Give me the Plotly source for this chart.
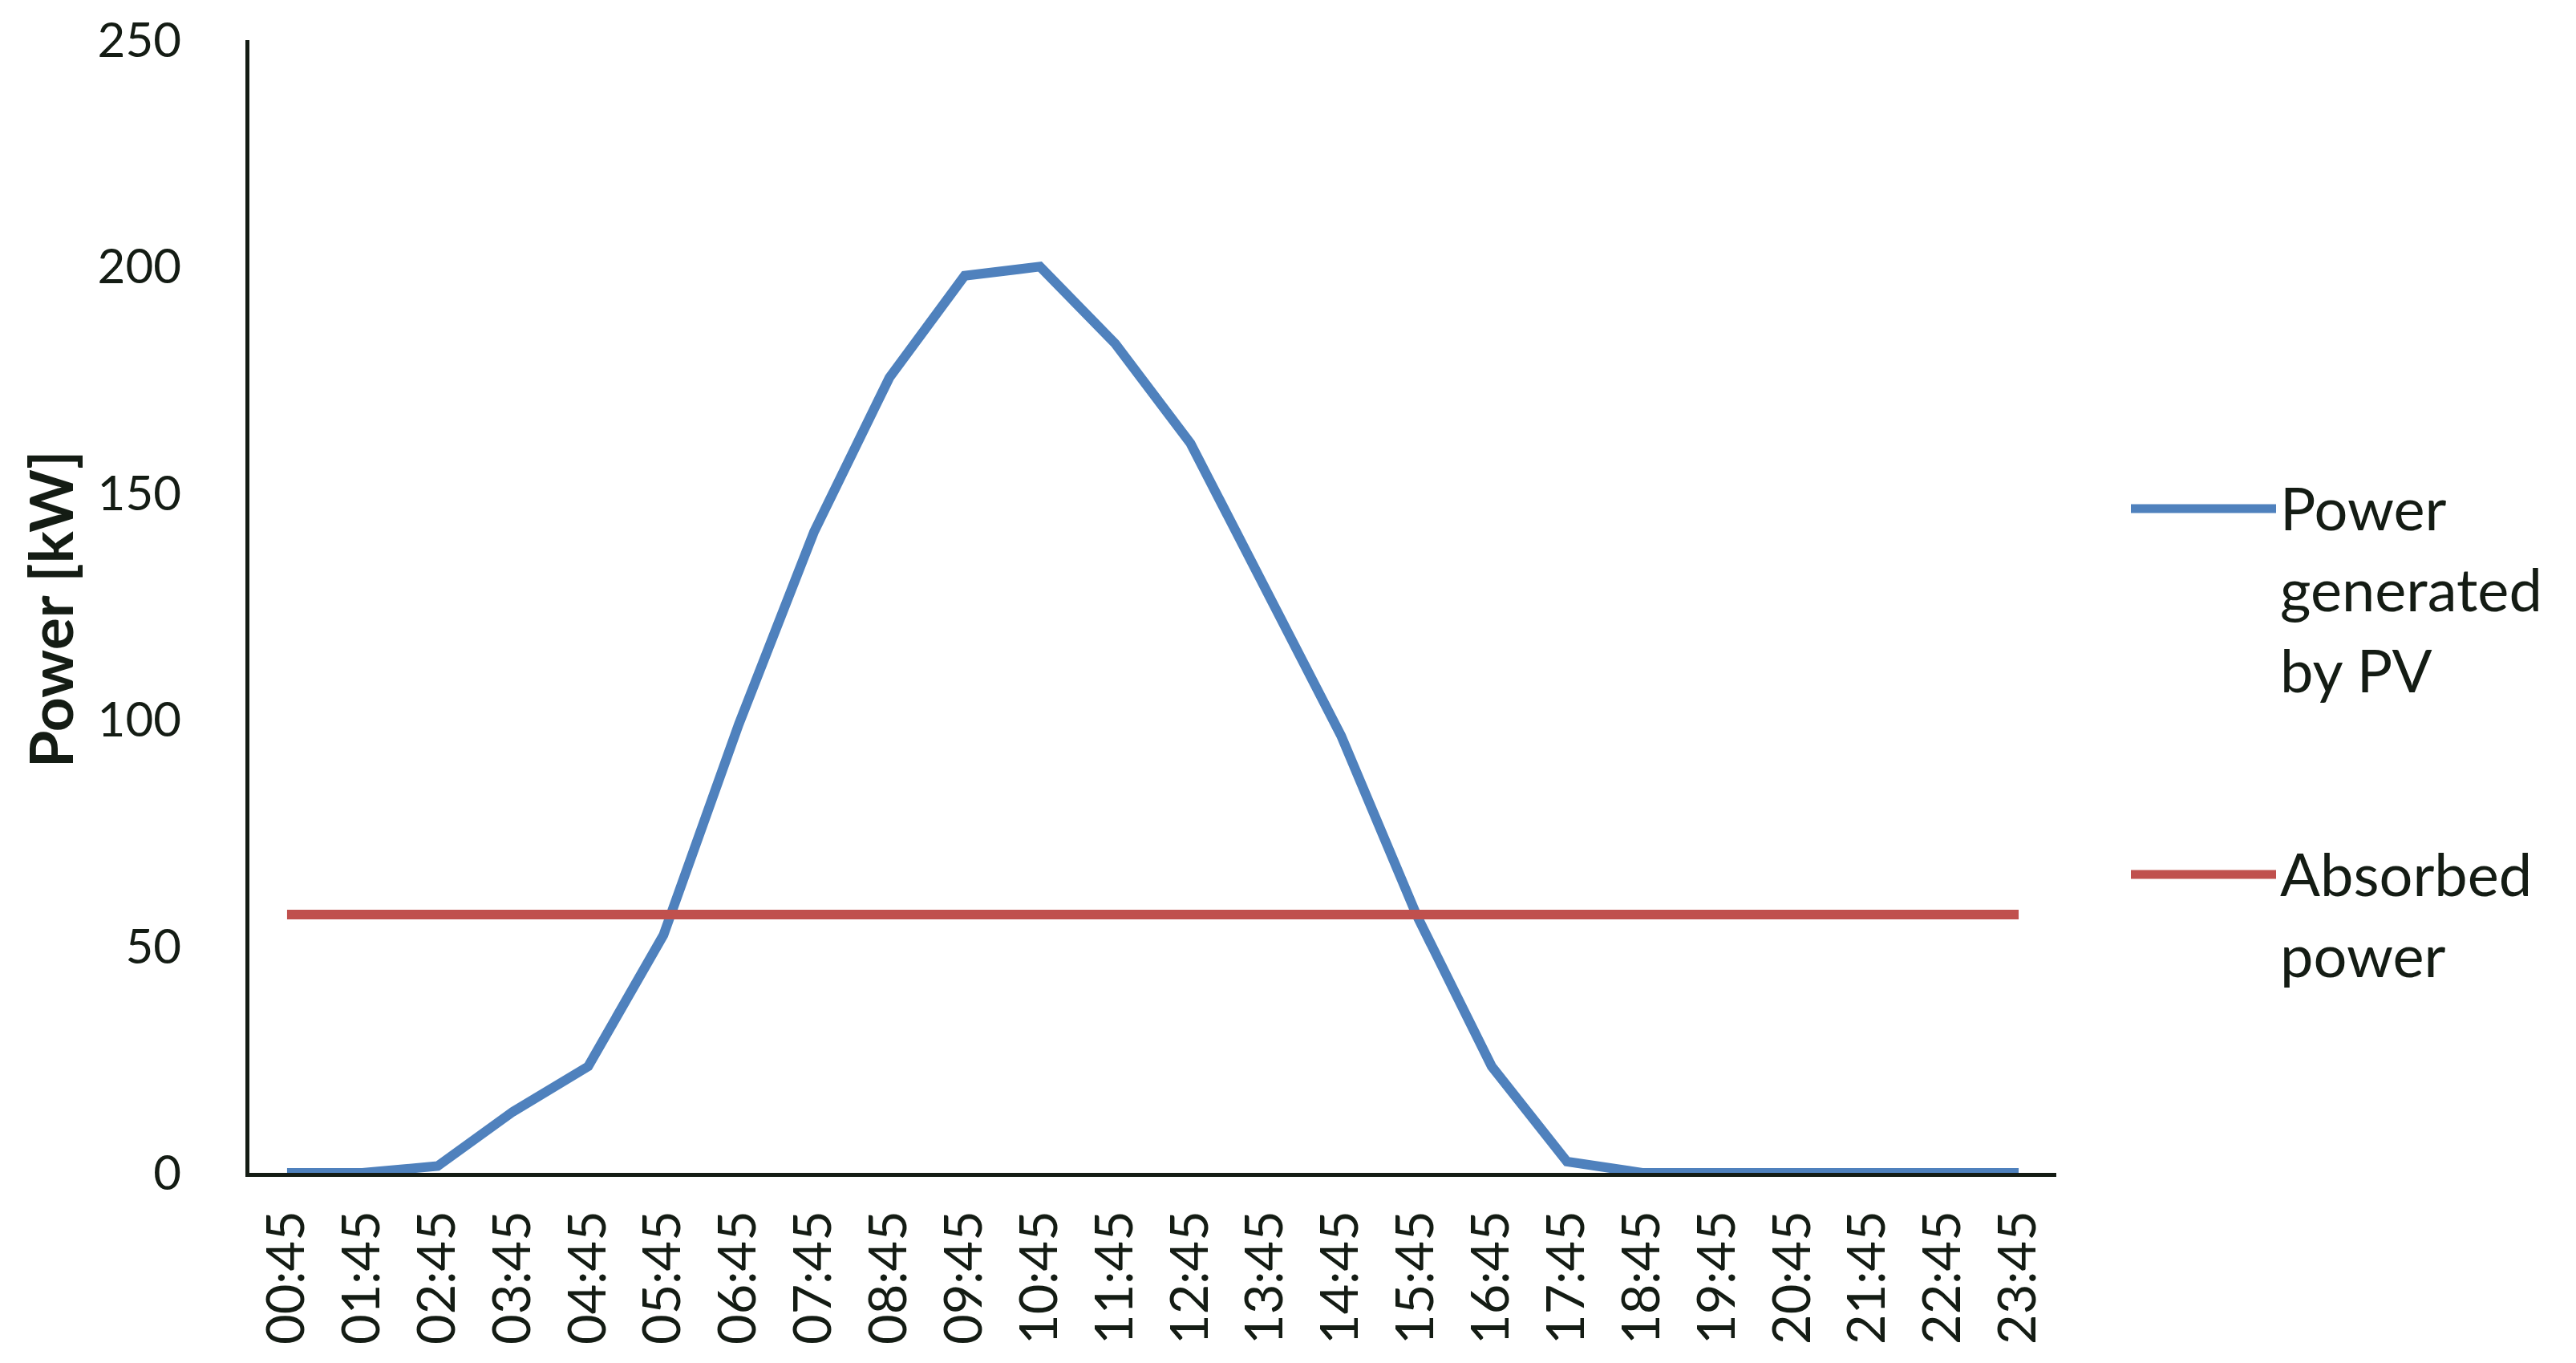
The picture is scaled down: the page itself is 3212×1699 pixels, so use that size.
import plotly.graph_objects as go

# time of day categories (hourly, at quarter to)
hours = ["00:45", "01:45", "02:45", "03:45", "04:45", "05:45", "06:45", "07:45",
         "08:45", "09:45", "10:45", "11:45", "12:45", "13:45", "14:45", "15:45",
         "16:45", "17:45", "18:45", "19:45", "20:45", "21:45", "22:45", "23:45"]

# power generated by PV [kW]
pv_power = [0, 0, 1.5, 13.5, 23.5, 52.5, 99, 141.5, 175.5, 198, 200, 183, 161,
            128.5, 96.5, 57, 23.5, 2.5, 0, 0, 0, 0, 0, 0]

# absorbed (constant) power [kW]
absorbed = [57] * len(hours)

y_ticks = [0, 50, 100, 150, 200, 250]

legend_names = [["Power", "generated", "by PV"], ["Absorbed", "power"]]
blue = "#4F81BD"
red = "#C0504D"
ink = "#141c14"
font = "Lato, 'Open Sans', sans-serif"

# page body has an 8px margin, so work in screen pixels and shift back
OFF = 8
W, H = 3212 - OFF, 1699 - OFF
L, R, T, B = 311 - OFF, 2564 - OFF, 50 - OFF, 1462 - OFF


def px(x):
    return (x - OFF - L) / (R - L)


def py(y):
    return (B - (y - OFF)) / (B - T)


fig = go.Figure()
fig.add_trace(go.Scatter(x=hours, y=pv_power, mode="lines", name="PV",
                         line=dict(color=blue, width=12), cliponaxis=False,
                         showlegend=False))
fig.add_trace(go.Scatter(x=hours, y=absorbed, mode="lines", name="Absorbed",
                         line=dict(color=red, width=12), cliponaxis=False,
                         showlegend=False))

# hand-made legend with long line samples like the original
shapes = []
annotations = []
entries = [(blue, 634), (red, 1090)]
for (col, yline), names in zip(entries, legend_names):
    shapes.append(dict(type="line", xref="paper", yref="paper",
                       x0=px(2657), x1=px(2838), y0=py(yline), y1=py(yline),
                       line=dict(color=col, width=11)))
    for i, word in enumerate(names):
        annotations.append(dict(text=word, xref="paper", yref="paper",
                                x=px(2841), y=py(yline - 2 + i * 101),
                                xanchor="left", yanchor="middle", showarrow=False,
                                font=dict(size=74, color=ink, family=font)))

annotations.append(dict(text="<b>Power [kW]</b>", xref="paper", yref="paper",
                        x=px(62), y=py(760), textangle=-90, showarrow=False,
                        xanchor="center", yanchor="middle",
                        font=dict(size=75, color=ink, family=font)))

fig.update_layout(
    width=W, height=H,
    margin=dict(l=L, r=W - R, t=T, b=H - B, autoexpand=False),
    plot_bgcolor="white", paper_bgcolor="white",
    shapes=shapes, annotations=annotations,
    showlegend=False,
    font=dict(family=font, color=ink),
)
fig.update_xaxes(type="category", range=[-0.5, len(hours) - 0.5],
                 showline=True, linecolor=ink, linewidth=5, showgrid=False,
                 zeroline=False, ticks="", tickangle=-90, layer="below traces",
                 tickfont=dict(size=65, color=ink, family=font),
                 ticklabelstandoff=16, automargin=False)
fig.update_yaxes(range=[0, 250], tickvals=y_ticks,
                 showline=True, linecolor=ink, linewidth=5, showgrid=False,
                 zeroline=False, ticks="", layer="below traces",
                 tickfont=dict(size=60, color=ink, family=font),
                 ticklabelstandoff=68, ticklabeloverflow="allow",
                 automargin=False)

fig.write_html("out.html")
